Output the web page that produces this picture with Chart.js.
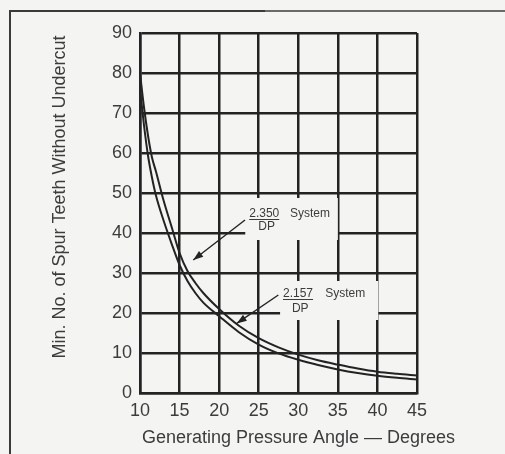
<!DOCTYPE html>
<html>
<head>
<meta charset="utf-8">
<script src="https://cdn.jsdelivr.net/npm/chart.js@4/dist/chart.umd.min.js"></script>
<style>
  html, body { margin: 0; padding: 0; background: #f4f4f2; }
  #wrap { width: 505px; height: 454px; }
</style>
</head>
<body>
<div id="wrap"><canvas id="c" width="505" height="454"></canvas></div>
<script>
// ---- data ----
const angles = [10, 10.5, 11, 11.5, 12, 13, 14, 15, 16, 17, 18, 20, 22.5, 25, 27.5, 30, 32.5, 35, 37.5, 40, 42.5, 45];
const teeth2350 = [80, 71.5, 64.5, 59, 55.5, 48, 41.5, 35, 30.5, 27.5, 25, 21, 16.8, 13.7, 11.4, 9.6, 8.2, 7.1, 6.1, 5.3, 4.8, 4.4];
const teeth2157 = [76, 67, 59.5, 54, 49.5, 43, 37.3, 32, 28, 25, 22.6, 19.2, 15.2, 12.1, 9.9, 8.3, 7.0, 5.9, 5.0, 4.3, 3.8, 3.4];
const xTicks = [10, 15, 20, 25, 30, 35, 40, 45];
const yTicks = [0, 10, 20, 30, 40, 50, 60, 70, 80, 90];
const seriesLabels = ['2.350 System DP', '2.157 System DP'];
const xTitle = 'Generating Pressure Angle \u2014 Degrees';
const yTitle = 'Min. No. of Spur Teeth Without Undercut';

// ---- annotation layout (data units) ----
const labelBoxes = [
  { x0: 23.3, x1: 35.0, y0: 38.25, y1: 48.75 },
  { x0: 27.7, x1: 40.1, y0: 18.25, y1: 28.0 }
];
const labelTexts = [
  { num: '2.350', x: 23.8, y: 44.0, sysX: 28.95, dpX: 24.95, dpY: 40.7 },
  { num: '2.157', x: 28.07, y: 24.0, sysX: 33.4, dpX: 29.2, dpY: 20.25 }
];
const arrows = [
  { fromX: 23.27, fromY: 43.25, toX: 16.73, toY: 33.25 },
  { fromX: 27.48, fromY: 24.5, toX: 22.22, toY: 17.4 }
];

const BG = '#f4f4f2';
const INK = '#232323';
const TXT = '#3c3c3c';
const FONT = '"Liberation Sans", Arial, Helvetica, sans-serif';

const decor = {
  id: 'decor',
  beforeDraw(chart) {
    const ctx = chart.ctx;
    ctx.save();
    ctx.fillStyle = BG;
    ctx.fillRect(0, 0, chart.width, chart.height);
    // outer frame
    ctx.lineWidth = 2;
    ctx.strokeStyle = '#3a3a3a';
    ctx.beginPath();
    ctx.moveTo(10, 470); ctx.lineTo(10, 11); ctx.lineTo(265, 11);
    ctx.stroke();
    ctx.strokeStyle = '#6a6a6a';
    ctx.beginPath();
    ctx.moveTo(265, 11); ctx.lineTo(510, 11);
    ctx.stroke();
    ctx.restore();
  },
  beforeDatasetsDraw(chart) {
    const { ctx, scales: { x, y } } = chart;
    ctx.save();
    ctx.fillStyle = BG;
    labelBoxes.forEach(b => {
      const l = x.getPixelForValue(b.x0), r = x.getPixelForValue(b.x1);
      const t = y.getPixelForValue(b.y1), bt = y.getPixelForValue(b.y0);
      ctx.fillRect(l, t, r - l, bt - t);
    });
    ctx.restore();
  },
  afterDatasetsDraw(chart) {
    const { ctx, scales: { x, y } } = chart;
    ctx.save();
    // arrows
    ctx.strokeStyle = INK;
    ctx.fillStyle = INK;
    ctx.lineWidth = 1.4;
    arrows.forEach(a => {
      const x1 = x.getPixelForValue(a.fromX), y1 = y.getPixelForValue(a.fromY);
      const x2 = x.getPixelForValue(a.toX), y2 = y.getPixelForValue(a.toY);
      ctx.beginPath(); ctx.moveTo(x1, y1); ctx.lineTo(x2, y2); ctx.stroke();
      const ang = Math.atan2(y2 - y1, x2 - x1);
      const L = 10, W = 3.5;
      ctx.beginPath();
      ctx.moveTo(x2, y2);
      ctx.lineTo(x2 - L * Math.cos(ang) + W * Math.sin(ang), y2 - L * Math.sin(ang) - W * Math.cos(ang));
      ctx.lineTo(x2 - L * Math.cos(ang) - W * Math.sin(ang), y2 - L * Math.sin(ang) + W * Math.cos(ang));
      ctx.closePath(); ctx.fill();
    });
    // label texts
    ctx.fillStyle = TXT;
    ctx.strokeStyle = TXT;
    ctx.font = '12px ' + FONT;
    ctx.textBaseline = 'alphabetic';
    ctx.textAlign = 'left';
    labelTexts.forEach((t, i) => {
      const px = x.getPixelForValue(t.x), py = y.getPixelForValue(t.y);
      ctx.fillText(t.num, px, py);
      const w = ctx.measureText(t.num).width;
      ctx.lineWidth = 1;
      ctx.beginPath(); ctx.moveTo(px, py + 2.5); ctx.lineTo(px + w, py + 2.5); ctx.stroke();
      ctx.fillText('System', x.getPixelForValue(t.sysX), py);
      ctx.fillText('DP', x.getPixelForValue(t.dpX), y.getPixelForValue(t.dpY));
    });
    ctx.restore();
  },
  afterDraw(chart) {
    const ctx = chart.ctx;
    ctx.save();
    ctx.fillStyle = TXT;
    ctx.font = '18px ' + FONT;
    ctx.textAlign = 'center';
    ctx.textBaseline = 'middle';
    ctx.fillText(xTitle, 298.5, 438);
    ctx.translate(60, 197);
    ctx.rotate(-Math.PI / 2);
    ctx.fillText(yTitle, 0, 0);
    ctx.restore();
  }
};

const tickFont = { family: FONT, size: 18 };

new Chart(document.getElementById('c'), {
  type: 'line',
  data: {
    datasets: [
      {
        label: seriesLabels[0],
        data: angles.map((a, i) => ({ x: a, y: teeth2350[i] })),
        borderColor: INK, borderWidth: 2, pointRadius: 0,
        cubicInterpolationMode: 'monotone', fill: false
      },
      {
        label: seriesLabels[1],
        data: angles.map((a, i) => ({ x: a, y: teeth2157[i] })),
        borderColor: INK, borderWidth: 2, pointRadius: 0,
        cubicInterpolationMode: 'monotone', fill: false
      }
    ]
  },
  options: {
    responsive: false,
    animation: false,
    events: [],
    layout: { padding: { top: 33, right: 88, left: 0, bottom: 0 } },
    plugins: { legend: { display: false }, tooltip: { enabled: false } },
    scales: {
      x: {
        type: 'linear', min: 10, max: 45,
        afterBuildTicks(s) { s.ticks = xTicks.map(v => ({ value: v })); },
        afterFit(s) { s.height = 61; },
        ticks: { font: tickFont, color: TXT, padding: 7, maxRotation: 0, autoSkip: false },
        grid: { color: INK, lineWidth: 2.5, drawTicks: false },
        border: { color: INK, width: 2.5 }
      },
      y: {
        type: 'linear', min: 0, max: 90,
        afterBuildTicks(s) { s.ticks = yTicks.map(v => ({ value: v })); },
        afterFit(s) { s.width = 140; },
        ticks: { font: tickFont, color: TXT, padding: 8, autoSkip: false },
        grid: { color: INK, lineWidth: 2.5, drawTicks: false },
        border: { color: INK, width: 2.5 }
      }
    }
  },
  plugins: [decor]
});
</script>
</body>
</html>
